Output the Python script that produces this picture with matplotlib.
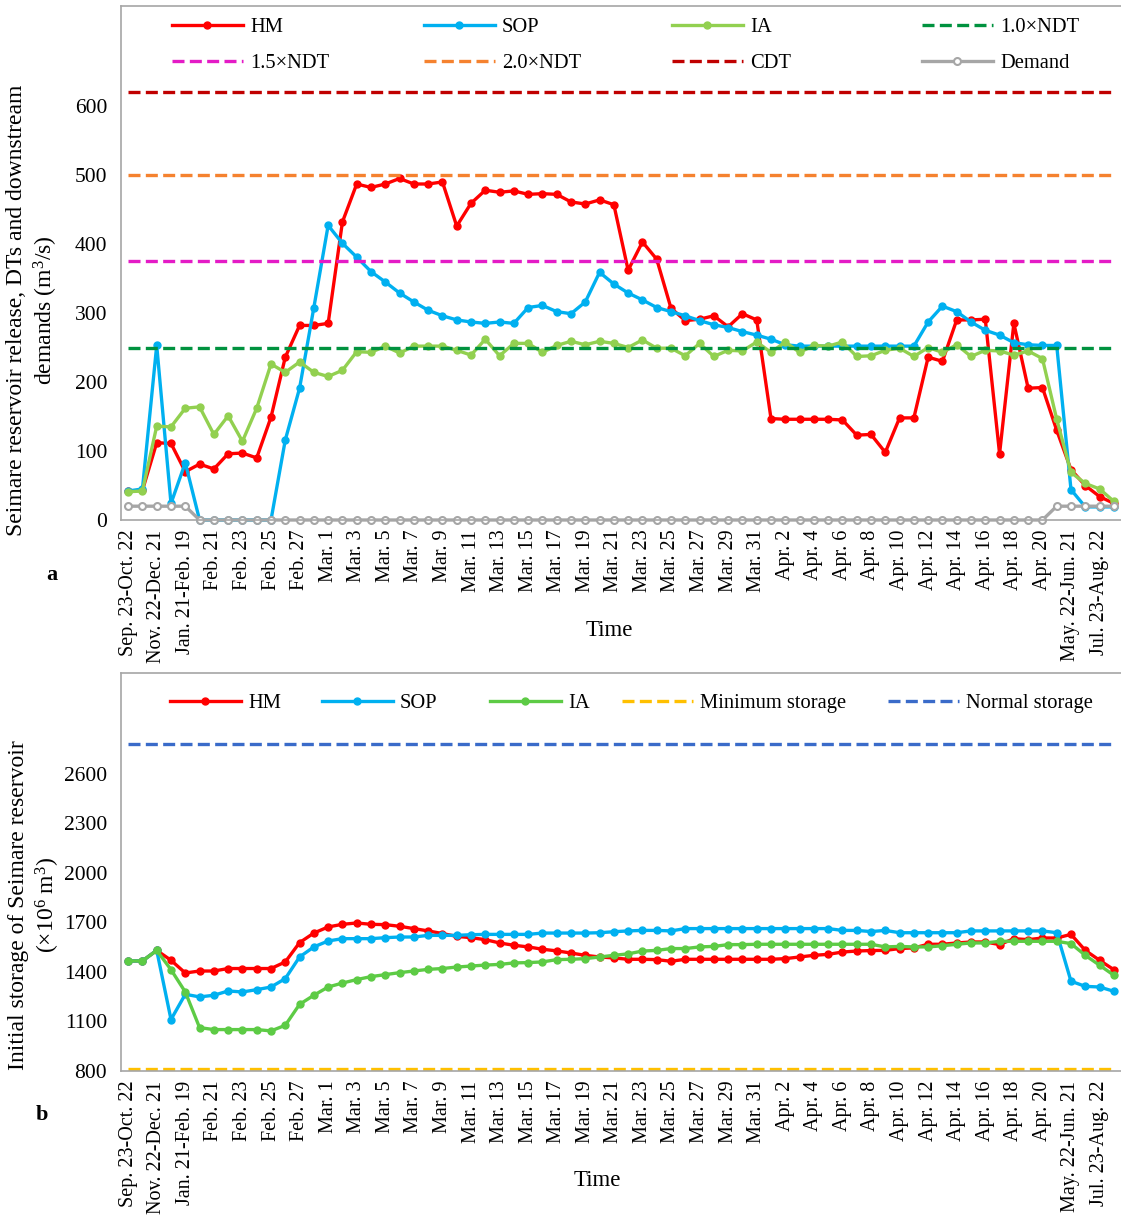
import numpy as np
import matplotlib.pyplot as plt
from matplotlib.lines import Line2D
from matplotlib.legend import Legend

plt.rcParams['font.family'] = ['Liberation Serif', 'DejaVu Serif']
plt.rcParams['mathtext.fontset'] = 'custom'
plt.rcParams['mathtext.rm'] = 'Liberation Serif'
plt.rcParams['mathtext.it'] = 'Liberation Serif:italic'

# labels shown on every second period
tick_labels = ["Sep. 23-Oct. 22", "Nov. 22-Dec. 21", "Jan. 21-Feb. 19",
               "Feb. 21", "Feb. 23", "Feb. 25", "Feb. 27",
               "Mar. 1", "Mar. 3", "Mar. 5", "Mar. 7", "Mar. 9", "Mar. 11",
               "Mar. 13", "Mar. 15", "Mar. 17", "Mar. 19", "Mar. 21", "Mar. 23",
               "Mar. 25", "Mar. 27", "Mar. 29", "Mar. 31",
               "Apr. 2", "Apr. 4", "Apr. 6", "Apr. 8", "Apr. 10", "Apr. 12",
               "Apr. 14", "Apr. 16", "Apr. 18", "Apr. 20",
               "May. 22-Jun. 21", "Jul. 23-Aug. 22"]

# reservoir release (m3/s)
release_hm = [42, 43, 112, 111, 70, 81, 74, 96, 97, 90,
              149, 236, 282, 282, 285, 432, 487, 482, 487, 495,
              487, 487, 490, 426, 459, 478, 475, 477, 472, 473,
              472, 461, 458, 464, 457, 362, 403, 378, 307, 289,
              291, 296, 280, 299, 290, 147, 146, 146, 146, 146,
              145, 123, 124, 98, 148, 148, 236, 230, 290, 290,
              291, 96, 285, 191, 192, 130, 73, 50, 34, 24]
release_sop = [42, 45, 253, 24, 83, 0, 0, 0, 0, 0,
               0, 116, 191, 308, 427, 401, 381, 360, 345, 329,
               316, 304, 296, 290, 287, 285, 287, 285, 308, 311,
               302, 299, 316, 359, 342, 329, 319, 308, 302, 296,
               289, 283, 279, 273, 268, 262, 254, 252, 252, 252,
               252, 252, 252, 252, 252, 252, 287, 310, 302, 287,
               275, 268, 257, 254, 253, 253, 44, 19, 19, 19]
release_ia = [41, 42, 136, 135, 162, 164, 124, 151, 114, 162,
              226, 214, 229, 214, 208, 217, 244, 243, 252, 242,
              252, 252, 252, 246, 239, 262, 238, 256, 256, 243,
              253, 259, 254, 259, 256, 250, 261, 249, 249, 238,
              256, 237, 246, 245, 258, 243, 258, 243, 253, 252,
              258, 237, 238, 246, 249, 237, 250, 243, 254, 237,
              246, 245, 239, 245, 234, 146, 69, 53, 45, 27]
demand = [20, 20, 20, 20, 20, 0, 0, 0, 0, 0,
          0, 0, 0, 0, 0, 0, 0, 0, 0, 0,
          0, 0, 0, 0, 0, 0, 0, 0, 0, 0,
          0, 0, 0, 0, 0, 0, 0, 0, 0, 0,
          0, 0, 0, 0, 0, 0, 0, 0, 0, 0,
          0, 0, 0, 0, 0, 0, 0, 0, 0, 0,
          0, 0, 0, 0, 0, 20, 20, 20, 20, 20]
ndt = 250
cdt = 620

# initial storage (10^6 m3)
storage_hm = [1467, 1467, 1531, 1471, 1394, 1406, 1406, 1421, 1421, 1421,
              1421, 1461, 1578, 1636, 1673, 1689, 1697, 1689, 1687, 1677,
              1663, 1649, 1633, 1616, 1608, 1596, 1576, 1562, 1552, 1538,
              1528, 1515, 1501, 1491, 1485, 1477, 1477, 1475, 1465, 1477,
              1477, 1477, 1477, 1477, 1477, 1477, 1481, 1491, 1501, 1507,
              1521, 1527, 1530, 1531, 1542, 1546, 1568, 1568, 1576, 1582,
              1582, 1566, 1602, 1596, 1606, 1606, 1628, 1531, 1471, 1414]
storage_sop = [1467, 1467, 1531, 1112, 1265, 1249, 1259, 1285, 1279, 1293,
               1309, 1360, 1491, 1552, 1588, 1602, 1602, 1602, 1608, 1612,
               1612, 1622, 1622, 1622, 1626, 1628, 1628, 1628, 1628, 1636,
               1636, 1636, 1636, 1638, 1644, 1649, 1652, 1652, 1649, 1663,
               1663, 1663, 1663, 1663, 1663, 1663, 1663, 1663, 1663, 1663,
               1652, 1652, 1645, 1652, 1638, 1638, 1638, 1638, 1638, 1649,
               1649, 1649, 1649, 1649, 1649, 1638, 1344, 1313, 1309, 1283]
storage_ia = [1467, 1467, 1531, 1414, 1279, 1063, 1051, 1051, 1051, 1051,
              1043, 1077, 1204, 1259, 1309, 1333, 1354, 1372, 1384, 1396,
              1406, 1416, 1421, 1430, 1436, 1442, 1446, 1455, 1457, 1461,
              1475, 1477, 1481, 1491, 1501, 1510, 1527, 1531, 1542, 1542,
              1552, 1555, 1566, 1566, 1568, 1568, 1568, 1568, 1568, 1568,
              1568, 1568, 1568, 1552, 1555, 1552, 1552, 1559, 1568, 1576,
              1576, 1586, 1586, 1586, 1586, 1586, 1572, 1501, 1441, 1380]
min_storage = 815
normal_storage = 2780

x = np.arange(len(release_hm))
W, H = 1121, 1218

fig = plt.figure(figsize=(W / 100, H / 100), dpi=100)


def axes_px(left, top, right, bottom):
    return fig.add_axes([left / W, 1 - bottom / H, (right - left) / W, (bottom - top) / H])


DASH = (0, (3.6, 1.6))
GRAY = '#A6A6A6'
LW = 2.4
MS = 5


def style_axes(ax, ylim, yticks):
    ax.set_xlim(-0.5, len(x) - 0.5)
    ax.set_ylim(*ylim)
    ax.set_yticks(yticks)
    ax.set_xticks(x[::2])
    ax.set_xticklabels(tick_labels, rotation=90, va='top', ha='center')
    ax.tick_params(axis='x', length=0, pad=7, labelsize=14.5)
    ax.tick_params(axis='y', length=0, pad=10, labelsize=15.5)
    ax.spines['right'].set_visible(False)
    for side in ('left', 'top', 'bottom'):
        ax.spines[side].set_color(GRAY)
        ax.spines[side].set_linewidth(1.2)


def legend_column(ax, handles, left_px, top_px):
    # one legend per column so each column sits at its own x position
    leg = Legend(ax, handles, [hd.get_label() for hd in handles],
                 loc='upper left', bbox_to_anchor=(left_px / W, 1 - top_px / H),
                 bbox_transform=fig.transFigure, frameon=False,
                 borderpad=0, borderaxespad=0, handlelength=3.45,
                 handletextpad=0.35, labelspacing=0.8, fontsize=14.8,
                 numpoints=1)
    ax.add_artist(leg)


# ---- (a) releases ----
ax1 = axes_px(121, 6, 1121, 520)
series_a = [
    (release_hm, '#FF0000', 'HM'),
    (release_sop, '#00B0F0', 'SOP'),
    (release_ia, '#92D050', 'IA'),
]
h = {}
for vals, col, lab in series_a:
    h[lab], = ax1.plot(x, vals, color=col, lw=LW, marker='o', ms=MS,
                       clip_on=False, label=lab)

thresholds = [
    (ndt, '#00923F', '1.0×NDT'),
    (1.5 * ndt, '#E41BC6', '1.5×NDT'),
    (2.0 * ndt, '#F5822F', '2.0×NDT'),
    (cdt, '#C00000', 'CDT'),
]
for val, col, lab in thresholds:
    ax1.hlines(val, x[0], x[-1], colors=col, lw=LW, linestyles=DASH)
    h[lab] = Line2D([], [], color=col, lw=LW, linestyle=DASH, label=lab)

ax1.plot(x, demand, color=GRAY, lw=LW, marker='o', ms=MS,
         mfc='white', mec=GRAY, mew=1.5, clip_on=False)
h['Demand'] = Line2D([], [], color=GRAY, lw=LW, marker='o', ms=MS,
                     mfc='white', mec=GRAY, mew=1.5, label='Demand')

style_axes(ax1, (0, 745), range(0, 601, 100))

legend_column(ax1, [h['HM'], h['1.5×NDT']], 172, 18)
legend_column(ax1, [h['SOP'], h['2.0×NDT']], 424, 18)
legend_column(ax1, [h['IA'], h['CDT']], 672, 18)
legend_column(ax1, [h['1.0×NDT'], h['Demand']], 922, 18)

fig.text(33 / W, 1 - 310 / H,
         "Seimare reservoir release, DTs and downstream\ndemands (m$^3$/s)",
         rotation=90, ha='center', va='center', multialignment='center',
         fontsize=17)
fig.text(609 / W, 1 - 630 / H, "Time", ha='center', va='center', fontsize=16.5)
fig.text(52 / W, 1 - 575 / H, "a", ha='center', va='center', fontsize=16,
         fontweight='bold')

# ---- (b) storage ----
ax2 = axes_px(121, 673, 1121, 1071)
series_b = [
    (storage_hm, '#FF0000', 'HM'),
    (storage_sop, '#00B0F0', 'SOP'),
    (storage_ia, '#5DCB45', 'IA'),
]
hb = []
for vals, col, lab in series_b:
    line, = ax2.plot(x, vals, color=col, lw=LW, marker='o', ms=MS,
                     clip_on=False, label=lab)
    hb.append(line)

levels = [
    (min_storage, '#FFC000', 'Minimum storage'),
    (normal_storage, '#3A6BC9', 'Normal storage'),
]
for val, col, lab in levels:
    ax2.hlines(val, x[0], x[-1], colors=col, lw=LW, linestyles=DASH)
    hb.append(Line2D([], [], color=col, lw=LW, linestyle=DASH, label=lab))

style_axes(ax2, (800, 3212), range(800, 2601, 300))

for handle, left in zip(hb, [170, 322, 490, 622, 888]):
    legend_column(ax2, [handle], left, 694)

fig.text(35 / W, 1 - 905 / H,
         "Initial storage of Seimare reservoir\n(×10$^6$ m$^3$)",
         rotation=90, ha='center', va='center', multialignment='center',
         fontsize=17)
fig.text(597 / W, 1 - 1180 / H, "Time", ha='center', va='center', fontsize=16.5)
fig.text(42 / W, 1 - 1115 / H, "b", ha='center', va='center', fontsize=16,
         fontweight='bold')

fig.savefig('out.png', dpi=100)
